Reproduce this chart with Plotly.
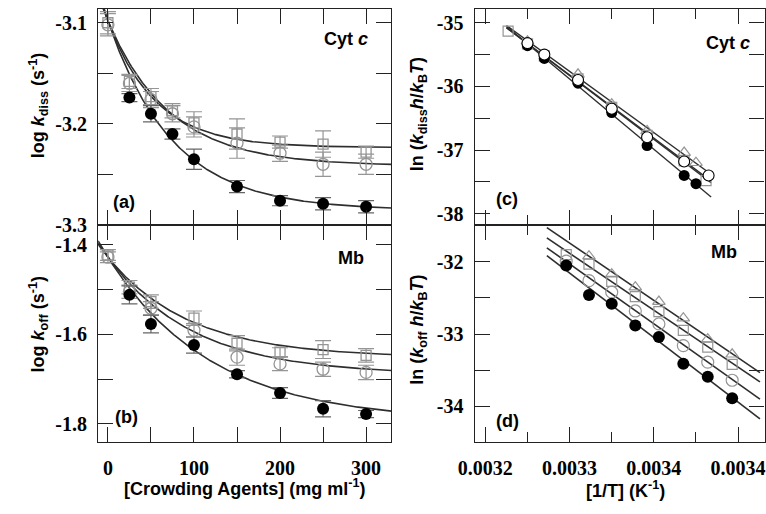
import numpy as np
import plotly.graph_objects as go

W, H = 766, 514

# ---------------- Panel (a): Cyt c, log k_diss vs crowding agent ----------------
conc_a = [0, 25, 50, 75, 100, 150, 200, 250, 300]
conc_a_filled = [25, 50, 75, 100, 150, 200, 250, 300]
a_filled = [-3.174, -3.190, -3.210, -3.235, -3.262, -3.276, -3.279, -3.282]
a_filled_err = [0.004, 0.008, 0.005, 0.010, 0.006, 0.005, 0.006, 0.006]
a_circle = [-3.102, -3.160, -3.176, -3.190, -3.203, -3.219, -3.229, -3.240, -3.240]
a_circle_err = [0.011, 0.008, 0.008, 0.008, 0.010, 0.015, 0.008, 0.012, 0.010]
a_square = [-3.100, -3.158, -3.173, -3.187, -3.199, -3.210, -3.218, -3.220, -3.228]
a_square_err = [0.011, 0.007, 0.008, 0.007, 0.011, 0.015, 0.006, 0.013, 0.006]
# fit parameters (y0, y_inf, tau)
fit_a_filled = (-3.098, -3.2855, 75)
fit_a_circle = (-3.098, -3.2415, 72)
fit_a_square = (-3.098, -3.2235, 55)

# ---------------- Panel (b): Mb, log k_off vs crowding agent ----------------
conc_b = [0, 25, 50, 100, 150, 200, 250, 300]
conc_b_filled = [25, 50, 100, 150, 200, 250, 300]
b_filled = [-1.512, -1.577, -1.624, -1.689, -1.731, -1.766, -1.778]
b_filled_err = [0.020, 0.020, 0.018, 0.008, 0.012, 0.018, 0.008]
b_circle = [-1.428, -1.505, -1.542, -1.591, -1.651, -1.666, -1.678, -1.685]
b_circle_err = [0.012, 0.015, 0.015, 0.015, 0.018, 0.015, 0.016, 0.016]
b_square = [-1.423, -1.495, -1.527, -1.564, -1.620, -1.640, -1.634, -1.647]
b_square_err = [0.012, 0.015, 0.015, 0.016, 0.017, 0.010, 0.020, 0.015]
fit_b_filled = (-1.428, -1.795, 120)
fit_b_circle = (-1.428, -1.690, 99)
fit_b_square = (-1.428, -1.652, 95)

# ---------------- Panel (c): Cyt c, Eyring plot ----------------
c_filled_x = [0.003250, 0.003270, 0.003310, 0.003350, 0.003392, 0.003436, 0.003450]
c_filled_y = [-35.36, -35.56, -35.95, -36.41, -36.93, -37.40, -37.53]
c_circle_x = [0.003250, 0.003270, 0.003310, 0.003350, 0.003392, 0.003436, 0.003465]
c_circle_y = [-35.32, -35.50, -35.90, -36.35, -36.80, -37.18, -37.40]
c_tri_x = [0.003250, 0.003310, 0.003350, 0.003392, 0.003436, 0.003450]
c_tri_y = [-35.29, -35.81, -36.28, -36.70, -37.04, -37.20]
c_square_x = [0.003227, 0.003250, 0.003270, 0.003310, 0.003350, 0.003392, 0.003436, 0.003462]
c_square_y = [-35.13, -35.33, -35.52, -35.88, -36.33, -36.77, -37.17, -37.48]
c_line_range = (0.003225, 0.003468)

# ---------------- Panel (d): Mb, Eyring plot ----------------
d_x = [0.003296, 0.003323, 0.003350, 0.003378, 0.003406, 0.003435, 0.003464, 0.003493]
d_filled = [-32.05, -32.46, -32.58, -32.88, -33.04, -33.41, -33.59, -33.89]
d_circle = [-31.99, -32.26, -32.42, -32.68, -32.86, -33.16, -33.39, -33.64]
d_square = [-31.90, -32.03, -32.27, -32.48, -32.69, -32.95, -33.18, -33.42]
d_tri_x = [0.003323, 0.003350, 0.003378, 0.003406, 0.003435, 0.003464, 0.003493]
d_tri = [-31.92, -32.17, -32.35, -32.55, -32.78, -33.07, -33.28]
d_line_range = (0.003273, 0.003526)

# ---------------- ticks ----------------
conc_ticks = [0, 50, 100, 150, 200, 250, 300]
conc_ticktext = ["0", "", "100", "", "200", "", "300"]
a_ticks = [-3.3, -3.25, -3.2, -3.15, -3.1]
a_ticktext = ["-3.3", "", "-3.2", "", "-3.1"]
b_ticks = [-1.8, -1.7, -1.6, -1.5, -1.4]
b_ticktext = ["-1.8", "", "-1.6", "", "-1.4"]
invT_ticks = [0.0032, 0.0033, 0.0034, 0.0035]
invT_ticktext = ["0.0032", "0.0033", "0.0034", "0.0034"]
c_ticks = [-38, -37.5, -37, -36.5, -36, -35.5, -35]
c_ticktext = ["-38", "", "-37", "", "-36", "", "-35"]
d_ticks = [-34.5, -34, -33.5, -33, -32.5, -32, -31.5]
d_ticktext = ["", "-34", "", "-33", "", "-32", ""]

GRAY = "#959595"
LINE = "#2e2e2e"

fig = go.Figure()


def decay(params, xs):
    y0, yinf, tau = params
    xs = np.asarray(xs)
    return yinf + (y0 - yinf) * np.exp(-xs / tau)


xgrid = np.linspace(-11.4, 329.5, 300)

# ---- panel (a)
for p in (fit_a_square, fit_a_circle, fit_a_filled):
    fig.add_trace(go.Scatter(x=xgrid, y=decay(p, xgrid), mode="lines",
                             line=dict(color=LINE, width=1.6), xaxis="x", yaxis="y"))
fig.add_trace(go.Scatter(x=conc_a, y=a_square, mode="markers", xaxis="x", yaxis="y",
                         marker=dict(symbol="square-open", size=10, color=GRAY, line=dict(width=1.3)),
                         error_y=dict(type="data", array=a_square_err, color=GRAY, width=8, thickness=1.2)))
fig.add_trace(go.Scatter(x=conc_a, y=a_circle, mode="markers", xaxis="x", yaxis="y",
                         marker=dict(symbol="circle-open", size=12, color=GRAY, line=dict(width=1.3)),
                         error_y=dict(type="data", array=a_circle_err, color=GRAY, width=8, thickness=1.2)))
fig.add_trace(go.Scatter(x=conc_a_filled, y=a_filled, mode="markers", xaxis="x", yaxis="y",
                         marker=dict(symbol="circle", size=12, color="black"),
                         error_y=dict(type="data", array=a_filled_err, color="#666666", width=8, thickness=1.2)))

# ---- panel (b)
for p in (fit_b_square, fit_b_circle, fit_b_filled):
    fig.add_trace(go.Scatter(x=xgrid, y=decay(p, xgrid), mode="lines",
                             line=dict(color=LINE, width=1.6), xaxis="x2", yaxis="y2"))
fig.add_trace(go.Scatter(x=conc_b, y=b_square, mode="markers", xaxis="x2", yaxis="y2",
                         marker=dict(symbol="square-open", size=10, color=GRAY, line=dict(width=1.3)),
                         error_y=dict(type="data", array=b_square_err, color=GRAY, width=8, thickness=1.2)))
fig.add_trace(go.Scatter(x=conc_b, y=b_circle, mode="markers", xaxis="x2", yaxis="y2",
                         marker=dict(symbol="circle-open", size=12, color=GRAY, line=dict(width=1.3)),
                         error_y=dict(type="data", array=b_circle_err, color=GRAY, width=8, thickness=1.2)))
fig.add_trace(go.Scatter(x=conc_b_filled, y=b_filled, mode="markers", xaxis="x2", yaxis="y2",
                         marker=dict(symbol="circle", size=12, color="black"),
                         error_y=dict(type="data", array=b_filled_err, color="#666666", width=8, thickness=1.2)))


def fit_line(xs, ys, xr):
    k, b = np.polyfit(xs, ys, 1)
    xx = np.array(xr)
    return xx, k * xx + b


# ---- panel (c)
for xs, ys in ((c_tri_x, c_tri_y), (c_square_x, c_square_y), (c_circle_x, c_circle_y), (c_filled_x, c_filled_y)):
    lx, ly = fit_line(xs, ys, c_line_range)
    fig.add_trace(go.Scatter(x=lx, y=ly, mode="lines", line=dict(color=LINE, width=1.4),
                             xaxis="x3", yaxis="y3"))
fig.add_trace(go.Scatter(x=c_square_x, y=c_square_y, mode="markers", xaxis="x3", yaxis="y3",
                         marker=dict(symbol="square-open", size=10, color=GRAY, line=dict(width=1.2))))
fig.add_trace(go.Scatter(x=c_tri_x, y=c_tri_y, mode="markers", xaxis="x3", yaxis="y3",
                         marker=dict(symbol="triangle-up-open", size=11, color=GRAY, line=dict(width=1.2))))
fig.add_trace(go.Scatter(x=c_filled_x, y=c_filled_y, mode="markers", xaxis="x3", yaxis="y3",
                         marker=dict(symbol="circle", size=11, color="black")))
fig.add_trace(go.Scatter(x=c_circle_x, y=c_circle_y, mode="markers", xaxis="x3", yaxis="y3",
                         marker=dict(symbol="circle", size=11, color="white", line=dict(color="black", width=1.1))))

# ---- panel (d)
for xs, ys in ((d_tri_x, d_tri), (d_x, d_square), (d_x, d_circle), (d_x, d_filled)):
    lx, ly = fit_line(xs, ys, d_line_range)
    fig.add_trace(go.Scatter(x=lx, y=ly, mode="lines", line=dict(color=LINE, width=1.6),
                             xaxis="x4", yaxis="y4"))
fig.add_trace(go.Scatter(x=d_tri_x, y=d_tri, mode="markers", xaxis="x4", yaxis="y4",
                         marker=dict(symbol="triangle-up-open", size=11, color=GRAY, line=dict(width=1.2))))
fig.add_trace(go.Scatter(x=d_x, y=d_square, mode="markers", xaxis="x4", yaxis="y4",
                         marker=dict(symbol="square-open", size=10, color=GRAY, line=dict(width=1.2))))
fig.add_trace(go.Scatter(x=d_x, y=d_circle, mode="markers", xaxis="x4", yaxis="y4",
                         marker=dict(symbol="circle-open", size=12, color=GRAY, line=dict(width=1.2))))
fig.add_trace(go.Scatter(x=d_x, y=d_filled, mode="markers", xaxis="x4", yaxis="y4",
                         marker=dict(symbol="circle", size=12, color="black")))


def px(x):
    return x / W


def py(y):
    return 1 - y / H


tickfont = dict(family="Liberation Serif, Times New Roman, serif", size=20, color="black", weight="bold")
axbase = dict(showline=True, linecolor="#222222", linewidth=1.3, mirror="ticks", ticks="inside",
              tickcolor="#222222", tickwidth=1.4, showgrid=False, zeroline=False,
              tickfont=tickfont, tickmode="array")

L0, L1 = px(84), px(384)
R0, R1 = px(469), px(765.5)
TOP = (py(230), py(9))
BOT = (py(452), py(230))

fig.update_layout(
    width=W, height=H, margin=dict(l=0, r=0, t=0, b=0),
    paper_bgcolor="white", plot_bgcolor="white", showlegend=False,
    xaxis=dict(axbase, domain=[L0, L1], anchor="y", range=[-11.36, 329.5],
               tickvals=conc_ticks, ticktext=conc_ticktext, showticklabels=False, ticklen=15),
    yaxis=dict(axbase, domain=TOP, anchor="x", range=[-3.3001, -3.0862],
               tickvals=a_ticks, ticktext=a_ticktext, ticklen=15, ticklabelstandoff=6),
    xaxis2=dict(axbase, domain=[L0, L1], anchor="y2", range=[-11.36, 329.5],
                tickvals=conc_ticks, ticktext=conc_ticktext, ticklen=15, ticklabelstandoff=8),
    yaxis2=dict(axbase, domain=BOT, anchor="x2", range=[-1.841, -1.3563],
                tickvals=b_ticks, ticktext=b_ticktext, ticklen=15, ticklabelstandoff=6),
    xaxis3=dict(axbase, domain=[R0, R1], anchor="y3", range=[0.0031872, 0.0035314],
                tickvals=invT_ticks, ticktext=invT_ticktext, showticklabels=False, ticklen=15,
                minor=dict(tickmode="linear", tick0=0.00325, dtick=0.0001, ticklen=10,
                           ticks="inside", tickcolor="#222222", tickwidth=1.4)),
    yaxis3=dict(axbase, domain=TOP, anchor="x3", range=[-38.18, -34.78],
                tickvals=c_ticks, ticktext=c_ticktext, ticklen=15, ticklabelstandoff=6),
    xaxis4=dict(axbase, domain=[R0, R1], anchor="y4", range=[0.0031872, 0.0035314],
                tickvals=invT_ticks, ticktext=invT_ticktext, ticklen=15, ticklabelstandoff=8,
                minor=dict(tickmode="linear", tick0=0.00325, dtick=0.0001, ticklen=10,
                           ticks="inside", tickcolor="#222222", tickwidth=1.4)),
    yaxis4=dict(axbase, domain=BOT, anchor="x4", range=[-34.50, -31.49],
                tickvals=d_ticks, ticktext=d_ticktext, ticklen=15, ticklabelstandoff=6),
)

sans = "Liberation Sans, Arial, sans-serif"
titlefont = dict(family=sans, size=18, color="black", weight="bold")
ann = []


def add_text(text, x, y, xanchor="center", angle=0, font=titlefont):
    ann.append(dict(text=text, x=px(x), y=py(y), xref="paper", yref="paper",
                    xanchor=xanchor, yanchor="middle", showarrow=False,
                    textangle=angle, font=font))


add_text("[Crowding Agents] (mg ml<sup>-1</sup>)", 234, 498)
add_text("[1/T] (K<sup>-1</sup>)", 623, 500)
add_text("log <i>k</i><sub>diss</sub> (s<sup>-1</sup>)", 23, 108, angle=-90)
add_text("log <i>k</i><sub>off</sub> (s<sup>-1</sup>)", 23, 331, angle=-90)
add_text("ln (<i>k</i><sub>diss</sub><i>h</i>/<i>k</i><sub>B</sub><i>T</i>)", 412, 117, angle=-90)
add_text("ln (<i>k</i><sub>off</sub> <i>h</i>/<i>k</i><sub>B</sub><i>T</i>)", 412, 337, angle=-90)

lab = dict(family=sans, size=18, color="black", weight="bold")
add_text("(a)", 97, 206, xanchor="left", font=lab)
add_text("(b)", 99, 426, xanchor="left", font=lab)
add_text("(c)", 489, 203, xanchor="left", font=lab)
add_text("(d)", 489, 430, xanchor="left", font=lab)
add_text("Cyt <i>c</i>", 313, 40, xanchor="left", font=lab)
add_text("Cyt <i>c</i>", 704, 44, xanchor="left", font=lab)
add_text("Mb", 327, 264, xanchor="left", font=lab)
add_text("Mb", 709, 257, xanchor="left", font=lab)

fig.update_layout(annotations=ann)
fig.write_html("out.html")
